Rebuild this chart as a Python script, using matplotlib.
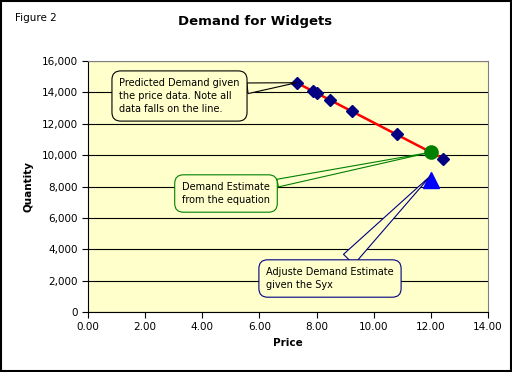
import matplotlib.pyplot as plt
from matplotlib.patches import Rectangle
from matplotlib.ticker import FuncFormatter, MultipleLocator

# Datos
price = [7.30, 7.89, 8.01, 8.47, 9.23, 10.80, 12.44]
quantity = [14616, 14060, 13947, 13513, 12796, 11316, 9769]
est_price = [12.00]
est_quantity = [10184]
adj_price = [12.00]
adj_quantity = [8400]

yellow = '#FFFFCC'

fig = plt.figure(figsize=(5.12, 3.72), dpi=100)
fig.patches.append(Rectangle((0.002, 0.003), 0.996, 0.994, transform=fig.transFigure,
                             fill=False, ec='black', lw=1.5))
ax = fig.add_axes([88 / 512, 60 / 372, 400 / 512, 251 / 372])
ax.set_facecolor(yellow)

ax.plot(price, quantity, color='red', lw=1.8, zorder=3)
ax.plot(price, quantity, linestyle='none', marker='D', ms=6.5, color='#000080', zorder=4)
ax.plot(est_price, est_quantity, linestyle='none', marker='o', ms=9.5, color='#008000', zorder=5)
ax.plot(adj_price, adj_quantity, linestyle='none', marker='^', ms=11, color='#0000FF', zorder=5)

ax.set_xlim(0, 14)
ax.set_ylim(0, 16000)
ax.xaxis.set_major_locator(MultipleLocator(2))
ax.yaxis.set_major_locator(MultipleLocator(2000))
ax.xaxis.set_major_formatter(FuncFormatter(lambda v, p: f'{v:.2f}'))
ax.yaxis.set_major_formatter(FuncFormatter(lambda v, p: f'{v:,.0f}'))
ax.grid(True, axis='y', color='black', lw=0.8)
ax.set_axisbelow(True)
ax.tick_params(direction='out', length=4, labelsize=7.5, width=0.8)
for s in ['top', 'right']:
    ax.spines[s].set_color('#808080')
for s in ['left', 'bottom']:
    ax.spines[s].set_color('black')

ax.set_xlabel('Price', fontsize=7.5, fontweight='bold', labelpad=4)
ax.set_ylabel('Quantity', fontsize=7.5, fontweight='bold', labelpad=6)

fig.text(255 / 512, 1 - 22 / 372, 'Demand for Widgets', fontsize=9.5, fontweight='bold',
         ha='center', va='center')
fig.text(15 / 512, 1 - 18 / 372, 'Figure 2', fontsize=7.5, ha='left', va='center')

# Llamadas (callouts)
callouts = [
    ('Predicted Demand given\nthe price data. Note all\ndata falls on the line.',
     (price[0], quantity[0]), (179.5, 276), 'black', 1.1),
    ('Demand Estimate\nfrom the equation', (est_price[0], est_quantity[0]), (226, 178.5), '#008000', 0.8),
    ('Adjuste Demand Estimate\ngiven the Syx', (adj_price[0], adj_quantity[0] + 300), (330, 93.5), '#000080', 1.5),
]
for txt, xy, pos, col, tw in callouts:
    ax.annotate(txt, xy=xy, xycoords='data', xytext=pos, textcoords='figure pixels',
                fontsize=7, ha='center', va='center', multialignment='left', linespacing=1.35,
                zorder=6,
                bbox=dict(boxstyle='round,pad=0.75,rounding_size=0.9', fc=yellow, ec=col, lw=0.8),
                arrowprops=dict(arrowstyle=f'wedge,tail_width={tw}', fc=yellow, ec=col, lw=0.8,
                                shrinkA=0, shrinkB=0))

plt.savefig('out.png', dpi=100)
